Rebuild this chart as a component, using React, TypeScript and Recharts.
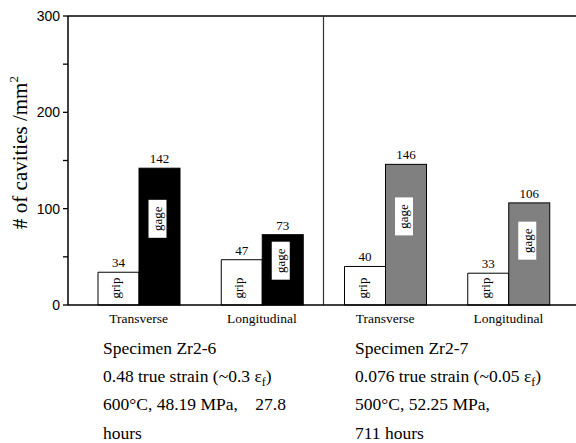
import React from 'react';
import { BarChart, Bar, XAxis, YAxis, ReferenceLine, LabelList } from 'recharts';

const categories = ['Transverse', 'Longitudinal', 'Transverse', 'Longitudinal'];
const specimens = ['Zr2-6', 'Zr2-6', 'Zr2-7', 'Zr2-7'];
const gripValues = [34, 47, 40, 33];
const gageValues = [142, 73, 146, 106];
const yTicks = [0, 50, 100, 150, 200, 250, 300];

const data = categories.map((name, i) => ({
  idx: i,
  name,
  specimen: specimens[i],
  grip: gripValues[i],
  gage: gageValues[i],
}));

const SERIF = 'Liberation Serif';
const SANS = 'Liberation Sans';
const gageColor: Record<string, string> = { 'Zr2-6': '#000000', 'Zr2-7': '#808080' };

const YTick = (props: any) => {
  const { x, y, payload } = props;
  const v = payload.value;
  return (
    <g>
      <line x1={x - 5} x2={x} y1={y} y2={y} stroke="#000" strokeWidth={1.3} />
      {v % 100 === 0 && (
        <text x={x - 8} y={y} textAnchor="end" dominantBaseline="central" fontSize={14} style={{ fontFamily: SANS }} fill="#000">
          {v}
        </text>
      )}
    </g>
  );
};

const YLabel = (props: any) => {
  const vb = props.viewBox || { x: 8, y: 16, width: 60, height: 289 };
  const cx = vb.x + 19;
  const cy = vb.y + vb.height / 2 - 8;
  return (
    <text x={cx} y={cy} transform={`rotate(-90 ${cx} ${cy})`} textAnchor="middle" fontSize={21} style={{ fontFamily: SERIF }} fill="#000">
      # of cavities /mm<tspan dy={-9} fontSize={13}>2</tspan>
    </text>
  );
};

const GripText = (props: any) => {
  const { x, y, width, height } = props;
  const cx = x + width / 2 - 3;
  const cy = y + height - 17;
  return (
    <text x={cx} y={cy} transform={`rotate(-90 ${cx} ${cy})`} textAnchor="middle" dominantBaseline="central" fontSize={13} style={{ fontFamily: SERIF }} fill="#000">
      grip
    </text>
  );
};

const GageBox = (props: any) => {
  const { x, y, width, height } = props;
  const cx = x + width / 2 - 2;
  const cy = y + height * 0.37;
  return (
    <g>
      <rect x={cx - 9} y={cy - 19} width={18} height={38} fill="#fff" />
      <text x={cx} y={cy} transform={`rotate(-90 ${cx} ${cy})`} textAnchor="middle" dominantBaseline="central" fontSize={13} style={{ fontFamily: SERIF }} fill="#000">
        gage
      </text>
    </g>
  );
};

const notes = [
  ['Specimen Zr2-6', '0.48 true strain (~0.3 ε|f|)', '600°C, 48.19 MPa,    27.8', 'hours'],
  ['Specimen Zr2-7', '0.076 true strain (~0.05 ε|f|)', '500°C, 52.25 MPa,', '711 hours'],
];

const renderLine = (s: string) => {
  const parts = s.split('|');
  if (parts.length === 1) return s;
  return (
    <>
      {parts[0]}
      <tspan dy={4} fontSize={12}>{parts[1]}</tspan>
      <tspan dy={-4}>{parts[2]}</tspan>
    </>
  );
};

export default function App() {
  return (
    <div style={{ position: 'relative', width: 576, height: 443, background: '#fff' }}>
      <style>{'body{margin:0}'}</style>
      <BarChart
        width={576}
        height={443}
        data={data}
        margin={{ top: 16, right: 0, left: 8, bottom: 108 }}
        barGap={0}
        barSize={41}
      >
        <XAxis
          dataKey="idx"
          type="category"
          tickFormatter={(i: number) => categories[i]}
          axisLine={{ stroke: '#000', strokeWidth: 1.5 }}
          tickLine={false}
          tickSize={0}
          tickMargin={8}
          height={30}
          padding={{ left: 9, right: 6 }}
          tick={{ fill: '#000', fontSize: 13.5, style: { fontFamily: SERIF } }}
          interval={0}
        />
        <YAxis
          domain={[0, 300]}
          ticks={yTicks}
          interval={0}
          width={60}
          axisLine={{ stroke: '#000', strokeWidth: 1.5 }}
          tickLine={false}
          tickSize={0}
          tickMargin={0}
          tick={<YTick />}
          label={{ content: YLabel }}
        />
        <ReferenceLine y={300} stroke="#000" strokeWidth={1.5} />
        <ReferenceLine x={1} position="end" stroke="#333" strokeWidth={1.2} />
        <Bar dataKey="grip" fill="#fff" stroke="#000" strokeWidth={1} isAnimationActive={false}>
          <LabelList dataKey="grip" position="top" offset={5} fill="#000" fontSize={13} style={{ fontFamily: SERIF }} />
          <LabelList dataKey="grip" content={GripText} />
        </Bar>
        <Bar
          dataKey="gage"
          stroke="#000"
          strokeWidth={1}
          isAnimationActive={false}
          shape={(p: any) => (
            <rect x={p.x} y={p.y} width={p.width} height={p.height} fill={gageColor[p.payload.specimen]} stroke="#000" strokeWidth={1} />
          )}
        >
          <LabelList dataKey="gage" position="top" offset={5} fill="#000" fontSize={13} style={{ fontFamily: SERIF }} />
          <LabelList dataKey="gage" content={GageBox} />
        </Bar>
      </BarChart>
      <svg width={576} height={443} style={{ position: 'absolute', left: 0, top: 0, pointerEvents: 'none' }}>
        {notes.map((col, ci) => (
          <g key={ci}>
            {col.map((line, li) => (
              <text key={li} x={ci === 0 ? 103 : 355} y={354 + li * 28.2} fontSize={17.5} fill="#000" style={{ whiteSpace: 'pre', fontFamily: SERIF }}>
                {renderLine(line)}
              </text>
            ))}
          </g>
        ))}
      </svg>
    </div>
  );
}
